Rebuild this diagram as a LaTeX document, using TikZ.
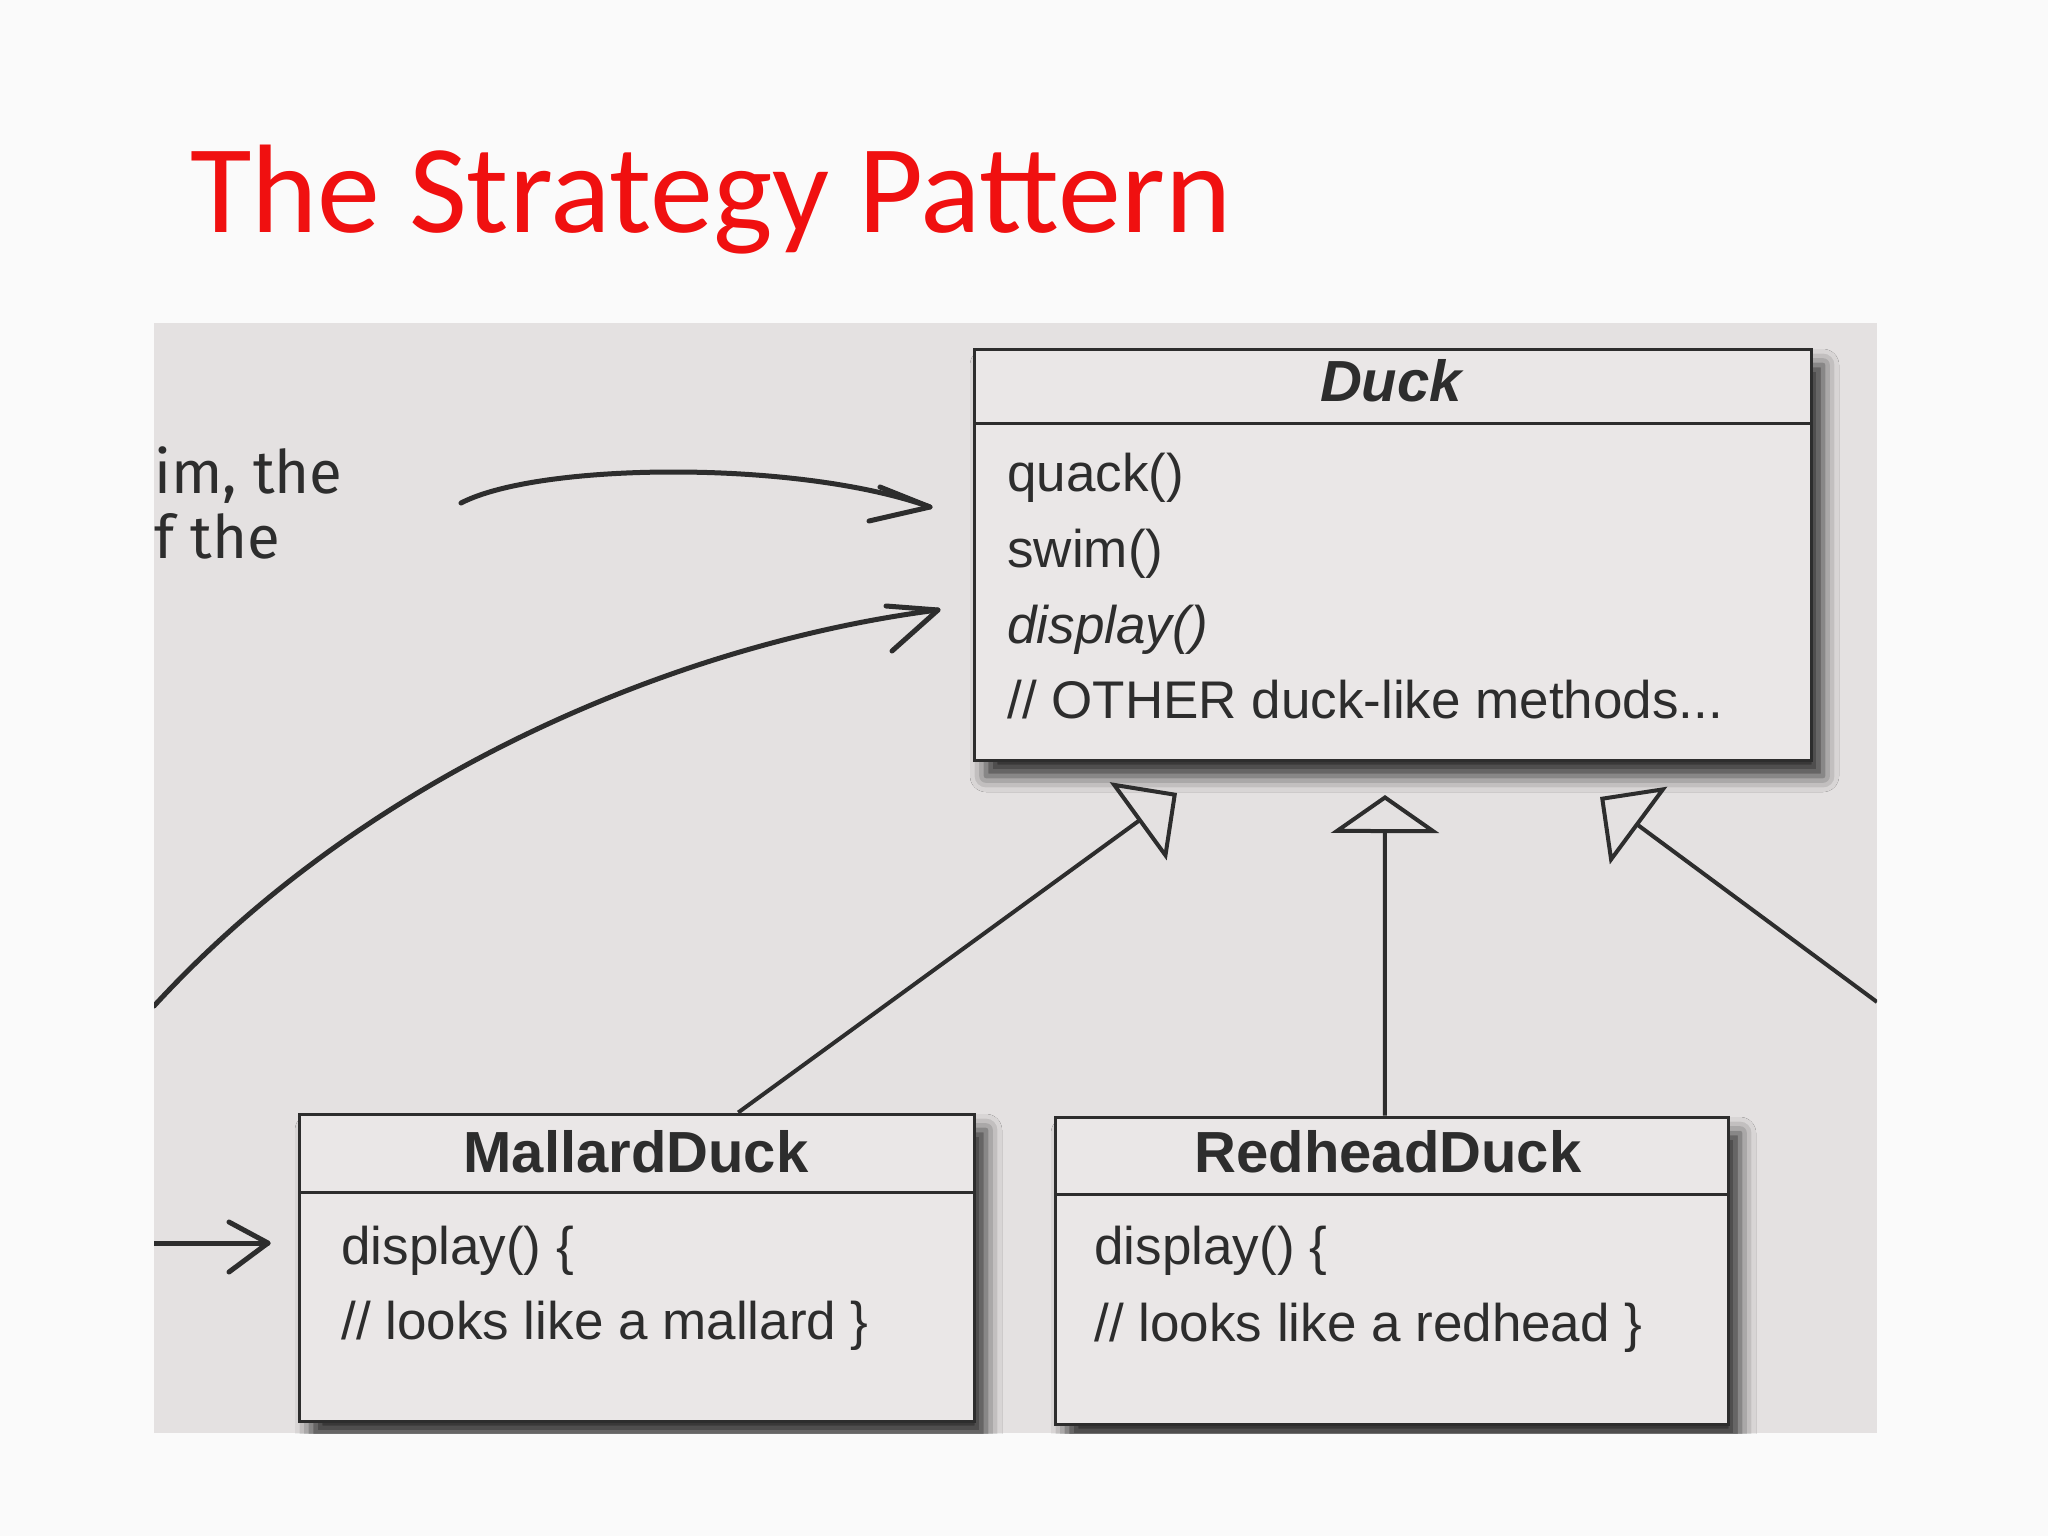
\documentclass[tikz,border=0pt]{standalone}
\usepackage{fontspec}
\setmainfont{Liberation Sans}
\newfontfamily\titlefont{Carlito}
\newfontfamily\handfont{Fira Sans}
\usetikzlibrary{arrows.meta,calc,shadows.blur}
\definecolor{pagebg}{RGB}{250,250,250}
\definecolor{photobg}{RGB}{228,225,225}
\definecolor{boxfill}{RGB}{234,231,231}
\definecolor{ink}{RGB}{45,45,45}
\definecolor{titlered}{RGB}{240,16,16}
\begin{document}
\begin{tikzpicture}[x=0.5pt,y=-0.5pt,
  umlbox/.style={draw=ink, line width=1.5pt, fill=boxfill, inner sep=0pt,
    blur shadow={shadow xshift=6pt, shadow yshift=-8pt, shadow blur radius=8pt, shadow opacity=80}},
  sepline/.style={draw=ink, line width=1.5pt},
  member/.style={anchor=base west, inner sep=0pt, text=ink, font=\fontsize{26.5pt}{30pt}\selectfont},
  classname/.style={anchor=base, inner sep=0pt, text=ink, font=\fontsize{29pt}{32pt}\selectfont\bfseries},
  genside/.style={draw=ink, line width=2pt, line join=miter, -{Triangle[open, length=24pt, width=48pt]}},
  genmid/.style={draw=ink, line width=2pt, line join=miter, -{Triangle[open, length=19pt, width=54pt]}},
  hand/.style={draw=ink, line width=2.5pt, line cap=round, line join=round},
  handtext/.style={anchor=base west, inner sep=0pt, text=ink, font=\handfont\fontsize{30pt}{34pt}\selectfont}
]
\useasboundingbox (0,0) rectangle (2048,1536);
\fill[pagebg] (0,0) rectangle (2048,1536);
\node[anchor=base west, inner sep=0pt, text=titlered, font=\titlefont\fontsize{63pt}{70pt}\selectfont] (title) at (190,232) {The Strategy Pattern};
% photo area
\fill[photobg] (154,323) rectangle (1877,1433);

\begin{scope}
\clip (154,323) rectangle (1877,1433);
% handwritten fragments
\node[handtext] (h1) at (154,493) {im, the};
\node[handtext] (h2) at (154,558) {f the};

% classes
\node[umlbox, minimum width=418.5pt, minimum height=205.5pt] (duck) at (1392.5,554.5) {};
\draw[sepline] (974,423) -- (1811,423);
\node[classname, font=\fontsize{29pt}{32pt}\selectfont\bfseries\itshape] (duckname) at (1391,401) {Duck};
\node[member] (m1) at (1007,491) {quack()};
\node[member] (m2) at (1007,567) {swim()};
\node[member] (m3) at (1007,643) {\itshape display()};
\node[member] (m4) at (1007,718) {// OTHER duck-like methods...};

\node[umlbox, minimum width=337.5pt, minimum height=153.5pt] (mallard) at (636.5,1267.5) {};
\draw[sepline] (299,1192) -- (974,1192);
\node[classname] (mallardname) at (636,1172) {MallardDuck};
\node[member] (mm1) at (341,1264) {display() \{};
\node[member] (mm2) at (341,1339) {// looks like a mallard \}};

\node[umlbox, minimum width=336.5pt, minimum height=153.5pt] (redhead) at (1391.5,1270.5) {};
\draw[sepline] (1055,1194) -- (1728,1194);
\node[classname] (redheadname) at (1388,1172) {RedheadDuck};
\node[member] (rm1) at (1094,1264) {display() \{};
\node[member] (rm2) at (1094,1341) {// looks like a redhead \}};

% generalisation arrows
\coordinate (t1) at (1177,793);
\coordinate (t2) at (1385,795);
\coordinate (t3) at (1600,797);
\coordinate (rightedge) at (1877,1002);
\draw[genside] ($(mallard.north west)!0.65!(mallard.north east)$) -- (t1);
\draw[genmid] ($(redhead.north west)!0.49!(redhead.north east)$) -- (t2);
\draw[genside] (rightedge) -- (t3);

% hand-drawn arrows
\coordinate (a1s) at (461,503);
\coordinate (a1e) at (930,507);
\draw[hand] (a1s) .. controls (540,462) and (800,460) .. (a1e);
\draw[hand] (880,487) -- (a1e) -- (869,521);

\coordinate (a2s) at (154,1006);
\coordinate (a2e) at (938,610);
\draw[hand] (a2s) .. controls (380,760) and (700,640) .. (a2e);
\draw[hand] (886,606) -- (a2e) -- (892,651);

\coordinate (a3s) at (154,1243);
\coordinate (a3e) at (268,1243);
\draw[hand] (a3s) -- (a3e);
\draw[hand] (229,1222) -- (a3e) -- (229,1272);
\end{scope}
\end{tikzpicture}
\end{document}
